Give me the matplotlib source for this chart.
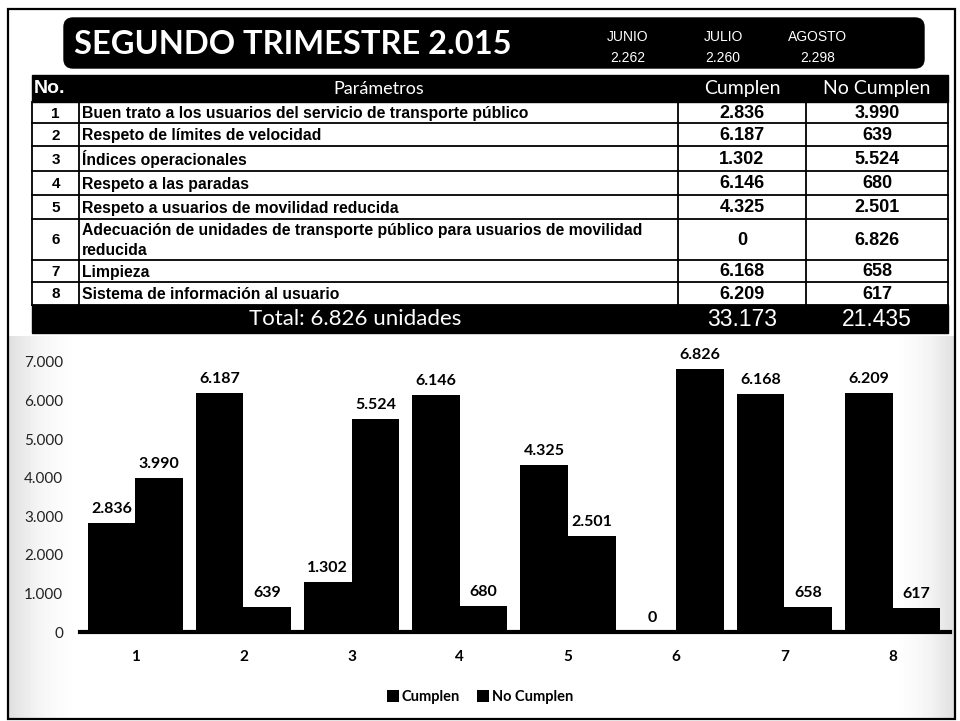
import numpy as np
import matplotlib
matplotlib.use("Agg")
import matplotlib.pyplot as plt
from matplotlib.patches import Rectangle, FancyBboxPatch

W, H = 960, 721

title = "SEGUNDO TRIMESTRE 2.015"
months = ["JUNIO", "JULIO", "AGOSTO"]
month_units = [2262, 2260, 2298]
numbers = [1, 2, 3, 4, 5, 6, 7, 8]
parametros = [
    "Buen trato a los usuarios del servicio de transporte público",
    "Respeto de límites de velocidad",
    "Índices operacionales",
    "Respeto a las paradas",
    "Respeto a usuarios de movilidad reducida",
    "Adecuación de unidades de transporte público para usuarios de movilidad\nreducida",
    "Limpieza",
    "Sistema de información al usuario",
]
cumplen = [2836, 6187, 1302, 6146, 4325, 0, 6168, 6209]
no_cumplen = [3990, 639, 5524, 680, 2501, 6826, 658, 617]
total_unidades = 6826
y_ticks = [0, 1000, 2000, 3000, 4000, 5000, 6000, 7000]


def miles(v):
    # thousands with a dot, as in the original
    return f"{v:,}".replace(",", ".")


CAL = "Lato"      # stand-in for Calibri
ARI = "Liberation Sans"

fig = plt.figure(figsize=(W / 100, H / 100), dpi=100)
fig.patch.set_facecolor("white")

# ---- overlay in pixel coords (y down) for title and table
ov = fig.add_axes([0, 0, 1, 1])
ov.set_xlim(0, W)
ov.set_ylim(H, 0)
ov.axis("off")

# faint scan shading at the chart edges
ramp = np.linspace(1, 0, 64)[None, :] ** 1.5
ov.imshow(ramp, cmap="Greys", vmin=0, vmax=3.5, extent=(9, 75, 719, 336), aspect="auto",
          alpha=0.7, zorder=0)
ov.imshow(ramp[:, ::-1], cmap="Greys", vmin=0, vmax=3.5, extent=(895, 955, 719, 336),
          aspect="auto", alpha=0.7, zorder=0)

ov.add_patch(Rectangle((8, 9), 947, 710, fill=False, ec="black", lw=1.6))

ov.add_patch(FancyBboxPatch((64, 18), 860, 50, boxstyle="round,pad=0,rounding_size=9",
                            fc="black", ec="black"))
ov.text(74, 44, title, color="white", fontsize=23.5, family=CAL, weight="bold",
        va="center", ha="left")
for mx, m, u in zip([628, 723, 818], months, month_units):
    ov.text(mx, 37, m, color="white", fontsize=10, family=ARI, ha="center", va="center")
    ov.text(mx, 58, miles(u), color="white", fontsize=10, family=ARI, ha="center", va="center")

# table geometry
cols = [32, 79, 678, 806, 948]
rows = [75, 102, 123, 146, 171, 195, 219, 260, 282, 305, 333]

ov.add_patch(Rectangle((cols[0], rows[0]), cols[-1] - cols[0], rows[1] - rows[0], fc="black", ec="black"))
ov.add_patch(Rectangle((cols[0], rows[-2]), cols[-1] - cols[0], rows[-1] - rows[-2], fc="black", ec="black"))
hy = (rows[0] + rows[1]) / 2
ov.text(34, hy, "No.", color="white", fontsize=14, family=ARI, weight="bold", ha="left", va="center")
ov.text((cols[1] + cols[2]) / 2, hy, "Parámetros", color="white", fontsize=13, family=CAL,
        ha="center", va="center")
ov.text((cols[2] + cols[3]) / 2, hy, "Cumplen", color="white", fontsize=14, family=CAL,
        ha="center", va="center")
ov.text((cols[3] + cols[4]) / 2, hy, "No Cumplen", color="white", fontsize=14, family=CAL,
        ha="center", va="center")

for i in range(len(numbers)):
    y0, y1 = rows[i + 1], rows[i + 2]
    yc = (y0 + y1) / 2 + 1
    ov.plot([cols[0], cols[-1]], [y1, y1], color="black", lw=1.3)
    ov.text((cols[0] + cols[1]) / 2, yc, str(numbers[i]), fontsize=11, family=ARI,
            weight="bold", ha="center", va="center")
    ov.text(cols[1] + 3, yc, parametros[i], fontsize=11.3, family=ARI, weight="bold",
            ha="left", va="center", linespacing=1.35)
    ov.text((cols[2] + cols[3]) / 2, yc, miles(cumplen[i]), fontsize=13, family=ARI,
            weight="bold", ha="center", va="center")
    ov.text((cols[3] + cols[4]) / 2, yc, miles(no_cumplen[i]), fontsize=13, family=ARI,
            weight="bold", ha="center", va="center")
for x in cols:
    ov.plot([x, x], [rows[1], rows[-2]], color="black", lw=1.3)

ty = (rows[-2] + rows[-1]) / 2
ov.text((cols[0] + cols[2]) / 2, ty, f"Total: {miles(total_unidades)} unidades", color="white",
        fontsize=16, family=CAL, ha="center", va="center")
ov.text((cols[2] + cols[3]) / 2, ty, miles(sum(cumplen)), color="white", fontsize=16.5,
        family=ARI, ha="center", va="center")
ov.text((cols[3] + cols[4]) / 2, ty, miles(sum(no_cumplen)), color="white", fontsize=16.5,
        family=ARI, ha="center", va="center")

# ---- bar chart
ax = fig.add_axes([80 / W, (H - 632) / H, 870 / W, 270 / H])
ax.set_facecolor("none")
x = np.array(numbers)
w = 0.44
b1 = ax.bar(x - w / 2, cumplen, w, color="black", label="Cumplen")
b2 = ax.bar(x + w / 2, no_cumplen, w, color="black", label="No Cumplen")
for bars, vals in ((b1, cumplen), (b2, no_cumplen)):
    ax.bar_label(bars, labels=[miles(v) for v in vals], padding=5, fontsize=11.5,
                 family=CAL, weight="bold")

ax.set_xlim(0.49, 8.53)
ax.set_ylim(0, 7000)
ax.set_xticks(x)
ax.set_xticklabels([str(n) for n in numbers], family=CAL, weight="bold", fontsize=11)
ax.set_yticks(y_ticks)
ax.set_yticklabels([miles(v) for v in y_ticks], family=CAL, fontsize=11, color="#222222")
ax.tick_params(axis="x", length=0, pad=13)
ax.tick_params(axis="y", length=0, pad=12)
for s in ("top", "right", "left"):
    ax.spines[s].set_visible(False)
ax.spines["bottom"].set_linewidth(3)

fig.legend(handles=[b1, b2], loc="center", bbox_to_anchor=(0.5, (H - 697) / H), ncol=2,
           frameon=False, handlelength=0.8, handleheight=0.8, handletextpad=0.2,
           columnspacing=1.2, prop={"family": CAL, "weight": "bold", "size": 10.5})

fig.savefig("out.png", dpi=100)
